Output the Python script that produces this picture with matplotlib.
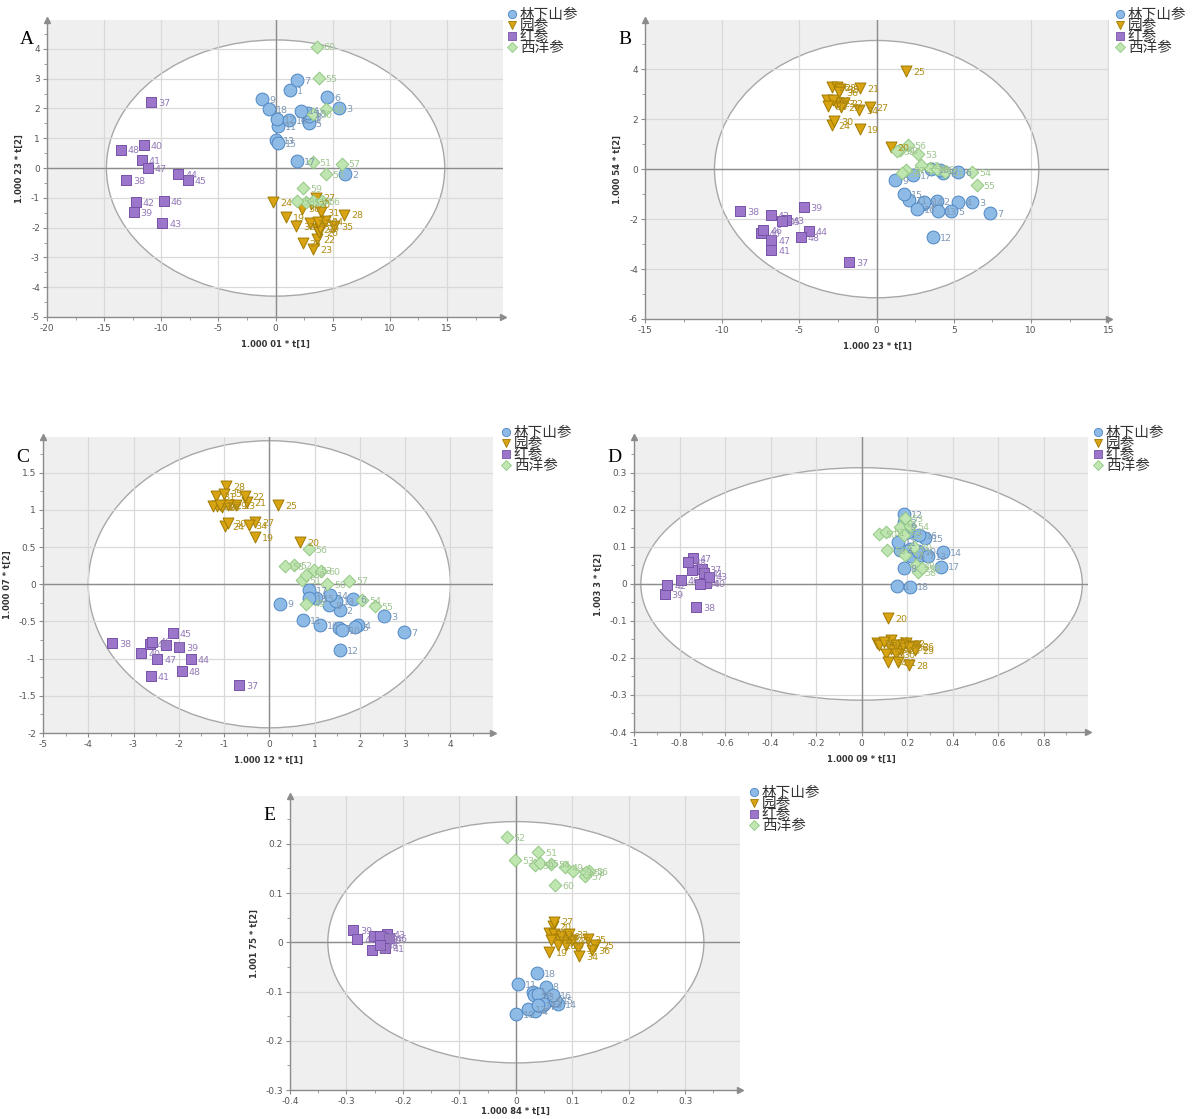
import matplotlib
matplotlib.use("Agg")
import matplotlib.pyplot as plt
from matplotlib.patches import Ellipse
from matplotlib.lines import Line2D
from matplotlib.ticker import MultipleLocator, AutoMinorLocator, FuncFormatter

plt.rcParams['font.family'] = ['DejaVu Sans']
plt.rcParams['axes.unicode_minus'] = False

GROUPS = ["林下山参", "园参", "红参", "西洋参"]
IDS_WILD = [1, 2, 3, 4, 5, 6, 7, 8, 9, 10, 11, 12, 13, 14, 15, 16, 17, 18]
IDS_GARDEN = [19, 20, 21, 22, 23, 24, 25, 26, 27, 28, 29, 30, 31, 32, 33, 34, 35, 36]
IDS_RED = [37, 38, 39, 40, 41, 42, 43, 44, 45, 46, 47, 48]
IDS_AMER = [49, 50, 51, 52, 53, 54, 55, 56, 57, 58, 59, 60]

# ---- A ----
A_WILD_X = [1.3, 6.07, 5.54, 2.8, 2.9, 4.52, 1.9, 2.9, -1.17, 2.86, 0.23, 0.09, 0.0, 2.2, 0.23, 1.15, 1.9, -0.55]
A_WILD_Y = [2.61, -0.19, 2.0, 1.6, 1.5, 2.39, 2.96, 1.75, 2.32, 1.84, 1.42, 1.65, 0.93, 1.93, 0.85, 1.6, 0.22, 1.98]
A_GARDEN_X = [0.9, 3.1, 3.6, 3.59, 3.3, -0.2, 2.36, 3.8, 3.53, 6.0, 3.9, 2.27, 3.94, 1.78, 3.0, 4.3, 5.1, 3.7]
A_GARDEN_Y = [-1.65, -1.2, -2.05, -2.38, -2.72, -1.15, -2.52, -2.15, -0.99, -1.56, -2.0, -1.36, -1.49, -1.94, -1.85, -1.78, -1.94, -1.8]
A_RED_X = [-10.9, -13.09, -12.42, -11.52, -11.69, -12.22, -9.92, -8.52, -7.67, -9.77, -11.17, -13.56]
A_RED_Y = [2.21, -0.40, -1.48, 0.77, 0.27, -1.15, -1.84, -0.2, -0.41, -1.12, 0.0, 0.62]
A_AMER_X = [4.37, 3.3, 3.24, 2.7, 4.37, 3.3, 3.76, 4.02, 5.77, 1.84, 2.42, 3.59]
A_AMER_Y = [1.97, 1.8, 0.21, -1.13, -0.21, -1.1, 3.02, -1.1, 0.15, -1.1, -0.67, 4.08]

# ---- B ----
B_WILD_X = [2.99, 3.89, 6.2, 5.3, 4.82, 5.3, 7.37, 4.33, 1.22, 4.09, 2.09, 3.67, 3.96, 3.1, 1.78, 2.63, 2.38, 3.5]
B_WILD_Y = [-1.41, -1.27, -1.31, -1.33, -1.69, -0.13, -1.77, -0.16, -0.45, -0.03, -1.23, -2.73, -1.69, -1.3, -1.0, -1.59, -0.25, 0.0]
B_GARDEN_X = [-1.09, 0.92, -1.05, -2.1, -2.6, -2.92, 1.9, -2.92, -0.46, -2.55, -2.29, -2.77, -3.21, -2.85, -3.14, -1.14, -2.36, -2.43]
B_GARDEN_Y = [1.6, 0.87, 3.24, 2.64, 2.64, 1.75, 3.91, 3.27, 2.5, 3.28, 2.5, 1.93, 2.75, 2.75, 2.53, 2.37, 3.2, 3.1]
B_RED_X = [-1.8, -8.85, -4.72, -7.47, -6.81, -6.86, -5.89, -4.38, -6.13, -7.34, -6.81, -4.91]
B_RED_Y = [-3.71, -1.69, -1.52, -2.56, -3.25, -1.83, -2.05, -2.47, -2.09, -2.45, -2.85, -2.72]
B_AMER_X = [3.48, 1.5, 4.45, 2.87, 2.7, 6.2, 6.49, 2.02, 1.9, 1.65, 1.29, 3.9]
B_AMER_Y = [0.04, 0.75, -0.13, 0.17, 0.61, -0.12, -0.65, 0.97, -0.03, -0.16, 0.71, 0.02]

# ---- C ----
C_WILD_X = [1.53, 1.55, 2.53, 1.95, 1.9, 1.85, 2.97, 1.31, 0.24, 1.61, 0.74, 1.55, 1.48, 1.33, 1.02, 1.11, 0.87, 0.87]
C_WILD_Y = [-0.59, -0.35, -0.43, -0.55, -0.57, -0.2, -0.64, -0.28, -0.26, -0.62, -0.48, -0.89, -0.23, -0.15, -0.19, -0.55, -0.08, -0.19]
C_GARDEN_X = [-0.32, 0.68, -0.49, -0.54, -0.74, -0.97, 0.19, -1.05, -0.32, -0.96, -0.91, -0.92, -1.17, -1.16, -1.24, -0.46, -1.01, -1.1]
C_GARDEN_Y = [0.64, 0.57, 1.11, 1.19, 1.07, 0.78, 1.07, 1.04, 0.84, 1.32, 1.06, 0.82, 1.19, 1.05, 1.05, 0.8, 1.22, 1.06]
C_RED_X = [-0.67, -3.48, -2.0, -2.83, -2.62, -2.64, -2.28, -1.74, -2.13, -2.59, -2.48, -1.94]
C_RED_Y = [-1.35, -0.79, -0.85, -0.93, -1.24, -0.8, -0.82, -1.0, -0.66, -0.77, -1.01, -1.17]
C_AMER_X = [0.82, 1.27, 0.72, 0.54, 0.98, 2.05, 2.33, 0.87, 1.77, 0.35, 0.82, 1.14]
C_AMER_Y = [-0.26, 0.0, 0.06, 0.26, 0.19, -0.21, -0.29, 0.47, 0.05, 0.25, 0.13, 0.18]

# ---- D ----
D_WILD_X = [0.156, 0.185, 0.205, 0.168, 0.213, 0.218, 0.261, 0.185, 0.185, 0.25, 0.159, 0.188, 0.291, 0.357, 0.278, 0.252, 0.347, 0.212]
D_WILD_Y = [-0.005, 0.168, 0.14, 0.092, 0.094, 0.076, 0.077, 0.042, 0.155, 0.09, 0.114, 0.188, 0.076, 0.087, 0.123, 0.132, 0.047, -0.007]
D_GARDEN_X = [0.13, 0.117, 0.13, 0.196, 0.173, 0.066, 0.078, 0.235, 0.151, 0.21, 0.235, 0.151, 0.159, 0.1, 0.108, 0.117, 0.18, 0.21]
D_GARDEN_Y = [-0.175, -0.093, -0.151, -0.16, -0.178, -0.16, -0.165, -0.168, -0.165, -0.22, -0.178, -0.19, -0.212, -0.158, -0.19, -0.212, -0.165, -0.17]
D_RED_X = [-0.701, -0.726, -0.865, -0.682, -0.691, -0.853, -0.671, -0.708, -0.747, -0.794, -0.742, -0.764]
D_RED_Y = [0.04, -0.063, -0.028, 0.003, 0.029, -0.003, 0.02, 0.001, 0.038, 0.01, 0.069, 0.058]
D_AMER_X = [0.24, 0.075, 0.108, 0.168, 0.19, 0.213, 0.185, 0.112, 0.193, 0.247, 0.264, 0.23]
D_AMER_Y = [0.051, 0.134, 0.139, 0.153, 0.177, 0.157, 0.132, 0.092, 0.077, 0.033, 0.042, 0.1]

# ---- E ----
E_WILD_X = [0.03, 0.032, 0.043, 0.034, 0.056, 0.06, 0.046, 0.053, 0.04, 0.0, 0.004, 0.022, 0.05, 0.074, 0.07, 0.066, 0.04, 0.038]
E_WILD_Y = [-0.1, -0.107, -0.11, -0.14, -0.12, -0.113, -0.13, -0.09, -0.105, -0.145, -0.085, -0.136, -0.125, -0.126, -0.117, -0.107, -0.128, -0.063]
E_GARDEN_X = [0.058, 0.065, 0.058, 0.068, 0.076, 0.087, 0.141, 0.074, 0.068, 0.1, 0.088, 0.08, 0.062, 0.11, 0.095, 0.112, 0.127, 0.134]
E_GARDEN_Y = [-0.019, 0.033, 0.019, 0.017, 0.007, 0.004, -0.005, -0.006, 0.042, 0.004, -0.005, 0.012, 0.005, -0.011, 0.017, -0.028, 0.006, -0.016]
E_RED_X = [-0.241, -0.245, -0.288, -0.236, -0.231, -0.281, -0.229, -0.252, -0.241, -0.225, -0.255, -0.241]
E_RED_Y = [0.0, 0.01, 0.024, 0.005, -0.011, 0.007, 0.017, 0.013, 0.013, 0.008, -0.015, -0.006]
E_AMER_X = [0.087, 0.034, 0.039, -0.016, -0.001, 0.063, 0.043, 0.13, 0.122, 0.125, 0.101, 0.07]
E_AMER_Y = [0.152, 0.157, 0.183, 0.214, 0.167, 0.159, 0.16, 0.145, 0.135, 0.142, 0.145, 0.116]

STYLE = [
    dict(marker="o", fc="#8dbbe6", ec="#4f86c2", s=85, tc="#7f98b6"),
    dict(marker="v", fc="#d8a414", ec="#a07a00", s=62, tc="#b08c12"),
    dict(marker="s", fc="#9c76cb", ec="#7652a6", s=62, tc="#9479b8"),
    dict(marker="D", fc="#bfe5b0", ec="#93c883", s=42, tc="#9fc690"),
]
IDS = [IDS_WILD, IDS_GARDEN, IDS_RED, IDS_AMER]

W, H = 1193, 1119
fig = plt.figure(figsize=(W / 100, H / 100), dpi=100)

# plain tick text: "-0.2", "0", "1.5"
tick_fmt = FuncFormatter(lambda v, _: f"{round(v, 6) + 0.0:g}")


def px_axes(l, t, r, b):
    return fig.add_axes([l / W, 1 - b / H, (r - l) / W, (b - t) / H])


def panel(box, letter, data, xlim, ylim, xstep, ystep, ell, xlab, ylab, leg_xy,
          xpad=5):
    ax = px_axes(*box)
    ax.set_facecolor("#efefef")
    ax.set_xlim(*xlim)
    ax.set_ylim(*ylim)
    ax.add_patch(Ellipse((0, 0), 2 * ell[0], 2 * ell[1], fc="white",
                         ec="#a8a8a8", lw=1.0, zorder=0.2))
    ax.xaxis.set_major_locator(MultipleLocator(xstep))
    ax.yaxis.set_major_locator(MultipleLocator(ystep))
    ax.xaxis.set_minor_locator(AutoMinorLocator(2))
    ax.yaxis.set_minor_locator(AutoMinorLocator(2))
    ax.xaxis.set_major_formatter(tick_fmt)
    ax.yaxis.set_major_formatter(tick_fmt)
    ax.set_axisbelow(True)
    ax.grid(True, which="major", color="#d9d9d9", lw=0.9)
    ax.axhline(0, color="#8c8c8c", lw=1.0, zorder=1.5)
    ax.axvline(0, color="#8c8c8c", lw=1.0, zorder=1.5)
    for sp in ("top", "right"):
        ax.spines[sp].set_visible(False)
    for sp in ("left", "bottom"):
        ax.spines[sp].set_color("#8c8c8c")
        ax.spines[sp].set_linewidth(1.0)
    ax.plot(1, 0, ">", color="#8c8c8c", ms=5, transform=ax.transAxes, clip_on=False)
    ax.plot(0, 1, "^", color="#8c8c8c", ms=5, transform=ax.transAxes, clip_on=False)
    ax.tick_params(which="both", direction="out", color="#8c8c8c",
                   labelsize=6.5, labelcolor="#555555", pad=2)
    ax.tick_params(which="major", length=3)
    ax.tick_params(which="minor", length=2)
    for (xs, ys), st, ids in zip(data, STYLE, IDS):
        ax.scatter(xs, ys, marker=st["marker"], s=st["s"], c=st["fc"],
                   edgecolors=st["ec"], linewidths=0.7, zorder=3)
        for x, y, n in zip(xs, ys, ids):
            ax.annotate(str(n), (x, y), xytext=(5, -1), textcoords="offset points",
                        fontsize=6.8, color=st["tc"], va="center", zorder=4)
    ax.set_xlabel(xlab, fontsize=6, fontweight="bold", color="#333333", labelpad=xpad)
    ax.set_ylabel(ylab, fontsize=6, fontweight="bold", color="#333333", labelpad=5)
    fig.text((box[0] - 27) / W, 1 - (box[1] + 20) / H, letter,
             family="Liberation Serif", fontsize=14, va="center", ha="left")
    handles = [Line2D([], [], ls="", marker=st["marker"], mfc=st["fc"], mec=st["ec"],
                      ms=6 if st["marker"] != "D" else 5, mew=0.6) for st in STYLE]
    fig.legend(handles, GROUPS, loc="upper left",
               bbox_to_anchor=(leg_xy[0] / W, 1 - leg_xy[1] / H),
               frameon=False, borderpad=0, borderaxespad=0, handlelength=0.8,
               handletextpad=0.15, labelspacing=-0.2,
               prop=dict(family=["Noto Sans CJK SC", "DejaVu Sans"], size=10.5),
               labelcolor="#333333")
    return ax


panel((47, 20, 503, 317), "A",
      [(A_WILD_X, A_WILD_Y), (A_GARDEN_X, A_GARDEN_Y), (A_RED_X, A_RED_Y), (A_AMER_X, A_AMER_Y)],
      (-20, 19.9), (-5, 4.97), 5, 1, (14.8, 4.3),
      "1.000 01 * t[1]", "1.000 23 * t[2]", (506, 8))

panel((645, 20, 1109, 319), "B",
      [(B_WILD_X, B_WILD_Y), (B_GARDEN_X, B_GARDEN_Y), (B_RED_X, B_RED_Y), (B_AMER_X, B_AMER_Y)],
      (-15, 15.05), (-6, 5.97), 5, 2, (10.5, 5.15),
      "1.000 23 * t[1]", "1.000 54 * t[2]", (1114, 8))

panel((43, 437, 493, 733), "C",
      [(C_WILD_X, C_WILD_Y), (C_GARDEN_X, C_GARDEN_Y), (C_RED_X, C_RED_Y), (C_AMER_X, C_AMER_Y)],
      (-5, 4.94), (-2, 1.98), 1, 0.5, (4.0, 1.93),
      "1.000 12 * t[1]", "1.000 07 * t[2]", (500, 426))

panel((634, 437, 1088, 732), "D",
      [(D_WILD_X, D_WILD_Y), (D_GARDEN_X, D_GARDEN_Y), (D_RED_X, D_RED_Y), (D_AMER_X, D_AMER_Y)],
      (-1, 0.995), (-0.4, 0.397), 0.2, 0.1, (0.97, 0.314),
      "1.000 09 * t[1]", "1.003 3 * t[2]", (1092, 426))

panel((290, 796, 740, 1090), "E",
      [(E_WILD_X, E_WILD_Y), (E_GARDEN_X, E_GARDEN_Y), (E_RED_X, E_RED_Y), (E_AMER_X, E_AMER_Y)],
      (-0.4, 0.397), (-0.3, 0.297), 0.1, 0.1, (0.333, 0.245),
      "1.000 84 * t[1]", "1.001 75 * t[2]", (748, 786), xpad=1)

fig.savefig("out.png", dpi=100)
